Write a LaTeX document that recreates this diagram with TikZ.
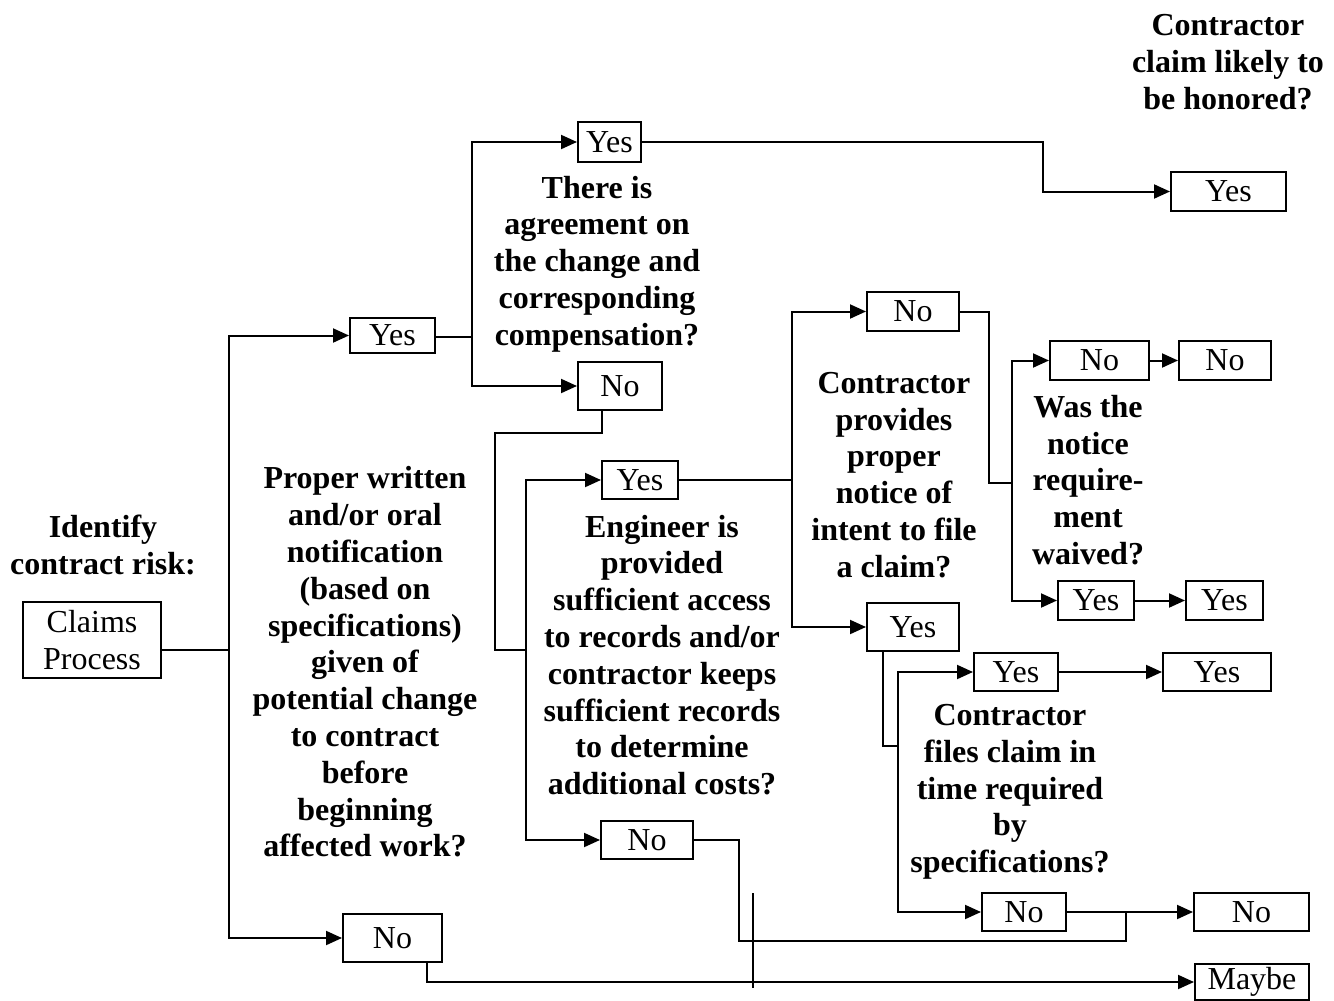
\documentclass[tikz,border=0pt]{standalone}
\usepackage{fontspec}
\setmainfont{Liberation Serif}
\usetikzlibrary{arrows.meta}
\newcommand{\mybox}[6]{\node[bx,minimum width={(#4-#2)*0.5pt},minimum height={(#5-#3)*0.5pt}] (#1) at ({(#2+#4)/2},{(#3+#5)/2}) {#6};}
\begin{document}
\begin{tikzpicture}[x=0.5pt,y=-0.5pt,
  line width=1pt,
  bx/.style={draw,inner sep=0pt,align=center,font=\fontsize{16}{18.4}\selectfont},
  q/.style={inner sep=0pt,align=center,font=\fontsize{16}{18.4}\selectfont\bfseries},
  arr/.style={-{Triangle[length=8pt,width=7pt]}}]
\useasboundingbox (0,0) rectangle (1334,1001);
% question texts
\node[q] (qhon) at (1228,62) {Contractor\\claim likely to\\be honored?};
\node[q] (qagr) at (597,264) {There is\\agreement on\\the change and\\corresponding\\compensation?};
\node[q] (qid) at (103,545) {Identify\\contract risk:};
\node[q] (qprop) at (365,662) {Proper written\\and/or oral\\notification\\(based on\\specifications)\\given of\\potential change\\to contract\\before\\beginning\\affected work?};
\node[q] (qeng) at (662,655) {Engineer is\\provided\\sufficient access\\to records and/or\\contractor keeps\\sufficient records\\to determine\\additional costs?};
\node[q] (qnot) at (894,475) {Contractor\\provides\\proper\\notice of\\intent to file\\a claim?};
\node[q] (qwai) at (1088,480) {Was the\\notice\\require-\\ment\\waived?};
\node[q] (qfil) at (1010,792) {Contractor\\files claim in\\time required\\by\\specifications?};
% boxes
\mybox{claims}{23}{602}{161}{678}{Claims\\Process}
\mybox{yes1}{350}{318}{435}{353}{Yes}
\mybox{no1}{343}{914}{442}{962}{No}
\mybox{yes2}{578}{122}{641}{162}{Yes}
\mybox{no2}{578}{362}{662}{410}{No}
\mybox{yesR1}{1171}{172}{1286}{211}{Yes}
\mybox{yes3}{602}{461}{678}{499}{Yes}
\mybox{no3}{601}{821}{693}{859}{No}
\mybox{no4}{867}{292}{959}{331}{No}
\mybox{yes4}{867}{603}{959}{651}{Yes}
\mybox{no5}{1050}{341}{1149}{380}{No}
\mybox{noR2}{1179}{341}{1271}{380}{No}
\mybox{yes5}{1058}{581}{1134}{620}{Yes}
\mybox{yesR3}{1186}{581}{1263}{620}{Yes}
\mybox{yes6}{974}{653}{1058}{691}{Yes}
\mybox{yesR4}{1163}{653}{1271}{691}{Yes}
\mybox{no6}{982}{893}{1066}{931}{No}
\mybox{noR5}{1194}{893}{1309}{931}{No}
\mybox{maybe}{1195}{964}{1309}{1000}{Maybe}
% junction coordinates
\coordinate (t1) at (229,650);
\coordinate (t2) at (472,337);
\coordinate (t3) at (1043,170);
\coordinate (n2a) at (602,433);
\coordinate (n2b) at (495,650);
\coordinate (t5) at (526,650);
\coordinate (t6) at (792,0);
\coordinate (t7) at (989,483);
\coordinate (t8) at (1012,483);
\coordinate (t9) at (883,746);
\coordinate (t10) at (898,746);
\coordinate (t11) at (739,941);
\coordinate (t12) at (1126,912);
\coordinate (m1) at (427,982);
\coordinate (s1) at (753,893);
\coordinate (s2) at (753,988);
% connectors
\draw (claims.east |- t1) -- (t1);
\draw[arr] (t1) |- (yes1);
\draw[arr] (t1) |- (no1);
\draw[arr] (no1.south -| m1) |- (maybe);
\draw (yes1.east |- t2) -- (t2);
\draw[arr] (t2) |- (yes2);
\draw[arr] (t2) |- (no2);
\draw[arr] (yes2.east) -| (t3) |- (yesR1);
\draw (no2.south -| n2a) -- (n2a) -| (n2b) -- (t5);
\draw[arr] (t5) |- (yes3);
\draw[arr] (t5) |- (no3);
\draw (yes3.east) -- (yes3.east -| t6);
\draw[arr] (yes3.east -| t6) |- (no4);
\draw[arr] (yes3.east -| t6) |- (yes4);
\draw (no4.east) -| (t7) -- (t8);
\draw[arr] (t8) |- (no5);
\draw[arr] (t8) |- (yes5);
\draw[arr] (no5) -- (noR2);
\draw[arr] (yes5) -- (yesR3);
\draw (yes4.south -| t9) -- (t9) -- (t10);
\draw[arr] (t10) |- (yes6);
\draw[arr] (t10) |- (no6);
\draw[arr] (yes6) -- (yesR4);
\draw[arr] (no6) -- (noR5);
\draw (no3.east) -| (t11) -| (t12);
\draw (s1) -- (s2);
\end{tikzpicture}
\end{document}
